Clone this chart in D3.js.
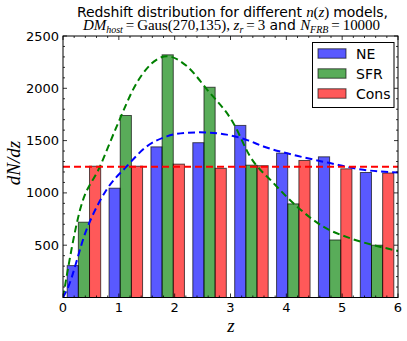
<!DOCTYPE html>
<html><head><meta charset="utf-8">
<script src="https://cdn.jsdelivr.net/npm/d3@7"></script>
<style>
body{margin:0;background:#fff;}
svg{display:block;}
.sans{font-family:"DejaVu Sans",sans-serif;}
.math{font-family:"Liberation Serif","DejaVu Serif",serif;}
</style></head>
<body>
<svg id="c" width="407" height="341"></svg>
<script>
// ---- data ----
const binEdges = [0, 0.75, 1.5, 2.25, 3, 3.75, 4.5, 5.25, 6];
const seriesNames = ["NE", "SFR", "Cons"];
const neValues   = [305, 1045, 1440, 1480, 1645, 1380, 1345, 1195];
const sfrValues  = [720, 1740, 2320, 2010, 1265, 895, 550, 500];
const consValues = [1255, 1255, 1275, 1235, 1260, 1310, 1230, 1190];
const neCurveZ   = [0, 0.07, 0.42, 0.78, 1.14, 1.5, 1.86, 2.2, 2.45, 2.93, 3.3, 3.59, 4.19, 4.78, 5.38, 6.0];
const neCurveV   = [0, 72, 647, 1030, 1253, 1444, 1540, 1575, 1579, 1557, 1505, 1444, 1355, 1285, 1221, 1195];
const sfrCurveZ  = [0, 0.305, 0.663, 0.962, 1.32, 1.68, 1.86, 2.22, 2.58, 3.05, 3.35, 3.77, 4.19, 4.66, 5.14, 5.62, 6.0];
const sfrCurveV  = [0, 838, 1253, 1636, 2051, 2275, 2307, 2211, 1988, 1669, 1349, 1094, 870, 678, 567, 493, 445];
const consLevel  = 1250;
const xTicks = [0, 1, 2, 3, 4, 5, 6];
const yTicks = [500, 1000, 1500, 2000, 2500];

// ---- layout ----
const svg = d3.select("#c");
const L = 63, R = 398, T = 36, B = 297.5;
const x = d3.scaleLinear().domain([0, 6]).range([L, R]);
const y = d3.scaleLinear().domain([0, 2500]).range([B, T]);
const colors = {NE:"#0000ff", SFR:"#008000", Cons:"#ff0000"};
const allSeries = [neValues, sfrValues, consValues];

svg.append("defs").append("clipPath").attr("id","clip")
  .append("rect").attr("x",L).attr("y",T).attr("width",R-L).attr("height",B-T);

// bars (rwidth 0.8, three side by side)
const g = svg.append("g");
allSeries.forEach((vals, si) => {
  const name = seriesNames[si];
  vals.forEach((v, i) => {
    const w = binEdges[i+1] - binEdges[i];
    const x0 = binEdges[i] + 0.1*w + si*(0.8*w/3);
    const x1 = x0 + 0.8*w/3;
    g.append("rect")
      .attr("x", x(x0)).attr("width", x(x1)-x(x0))
      .attr("y", y(v)).attr("height", y(0)-y(v))
      .attr("fill", colors[name]).attr("fill-opacity", 0.65)
      .attr("stroke", "#000").attr("stroke-opacity", 0.65).attr("stroke-width", 1);
  });
});

// curves
const line = d3.line().x(d=>x(d[0])).y(d=>y(d[1])).curve(d3.curveMonotoneX);
const cg = svg.append("g").attr("clip-path","url(#clip)");
cg.append("path").datum(sfrCurveZ.map((z,i)=>[z,sfrCurveV[i]]))
  .attr("d", line).attr("fill","none").attr("stroke",colors.SFR)
  .attr("stroke-width",2).attr("stroke-dasharray","7,4");
cg.append("path").datum(neCurveZ.map((z,i)=>[z,neCurveV[i]]))
  .attr("d", line).attr("fill","none").attr("stroke",colors.NE)
  .attr("stroke-width",2).attr("stroke-dasharray","7,4");
cg.append("path").datum([[0,consLevel],[6,consLevel]])
  .attr("d", line).attr("fill","none").attr("stroke",colors.Cons)
  .attr("stroke-width",2).attr("stroke-dasharray","7,4");

// ticks (inside, all four sides)
const tg = svg.append("g").attr("stroke","#000").attr("stroke-width",0.8);
const xMinor = d3.range(0, 6.0001, 0.2);
const yMinor = d3.range(0, 2500.1, 100);
xMinor.forEach(t=>{
  const major = Math.abs(t-Math.round(t))<1e-6;
  const len = major?4:2;
  tg.append("line").attr("x1",x(t)).attr("x2",x(t)).attr("y1",B).attr("y2",B-len);
  tg.append("line").attr("x1",x(t)).attr("x2",x(t)).attr("y1",T).attr("y2",T+len);
});
yMinor.forEach(t=>{
  const major = t%500===0;
  const len = major?4:2;
  tg.append("line").attr("x1",L).attr("x2",L+len).attr("y1",y(t)).attr("y2",y(t));
  tg.append("line").attr("x1",R).attr("x2",R-len).attr("y1",y(t)).attr("y2",y(t));
});

// frame
svg.append("rect").attr("x",L).attr("y",T).attr("width",R-L).attr("height",B-T)
  .attr("fill","none").attr("stroke","#000").attr("stroke-width",1);

// tick labels
xTicks.forEach(t=>{
  svg.append("text").attr("class","sans").attr("x",x(t)).attr("y",312)
    .attr("text-anchor","middle").attr("font-size",13).text(t);
});
yTicks.forEach(t=>{
  svg.append("text").attr("class","sans").attr("x",L-4).attr("y",y(t)+4.5)
    .attr("text-anchor","end").attr("font-size",13).text(t);
});

// axis labels
svg.append("text").attr("class","math").attr("x",231).attr("y",332)
  .attr("text-anchor","middle").attr("font-size",19).attr("font-style","italic").text("z");
svg.append("text").attr("class","math")
  .attr("transform","translate(20,163) rotate(-90)")
  .attr("text-anchor","middle").attr("font-size",19).attr("font-style","italic").text("dN/dz");

// title
const t1 = svg.append("text").attr("x",232.5).attr("y",17.3).attr("text-anchor","middle")
  .attr("font-size",14).attr("class","sans")
  .attr("textLength",311).attr("lengthAdjust","spacing");
t1.append("tspan").text("Redshift distribution for different ");
t1.append("tspan").attr("class","math").attr("font-style","italic").attr("font-size",15).text("n");
t1.append("tspan").attr("class","math").attr("font-size",15).text("(");
t1.append("tspan").attr("class","math").attr("font-style","italic").attr("font-size",15).text("z");
t1.append("tspan").attr("class","math").attr("font-size",15).text(")");
t1.append("tspan").text(" models,");

const t2 = svg.append("text").attr("x",231.5).attr("y",30).attr("text-anchor","middle")
  .attr("font-size",15).attr("class","math")
  .attr("textLength",297).attr("lengthAdjust","spacing");
t2.append("tspan").attr("font-style","italic").text("DM");
t2.append("tspan").attr("font-style","italic").attr("font-size",10).attr("dy",3).text("host");
t2.append("tspan").attr("dy",-3).text("\u2009=\u2009Gaus(270,135), ");
t2.append("tspan").attr("font-style","italic").text("z");
t2.append("tspan").attr("font-style","italic").attr("font-size",10).attr("dy",3).text("r");
t2.append("tspan").attr("dy",-3).text("\u2009=\u20093");
t2.append("tspan").attr("class","sans").attr("font-size",14).text(" and ");
t2.append("tspan").attr("font-style","italic").text("N");
t2.append("tspan").attr("font-style","italic").attr("font-size",10).attr("dy",3).text("FRB");
t2.append("tspan").attr("dy",-3).text("\u2009=\u200910000");

// legend
const lg = svg.append("g");
lg.append("rect").attr("x",312.5).attr("y",42.5).attr("width",81.5).attr("height",65)
  .attr("fill","#fff").attr("stroke","#000").attr("stroke-width",1);
seriesNames.forEach((n,i)=>{
  const cy = 53.5 + i*20;
  lg.append("rect").attr("x",318).attr("y",cy-4.7).attr("width",28).attr("height",9.4)
    .attr("fill",colors[n]).attr("fill-opacity",0.65)
    .attr("stroke","#000").attr("stroke-opacity",0.65).attr("stroke-width",1);
  lg.append("text").attr("class","sans").attr("x",356).attr("y",cy+5)
    .attr("font-size",14).text(n);
});
</script>
</body></html>
